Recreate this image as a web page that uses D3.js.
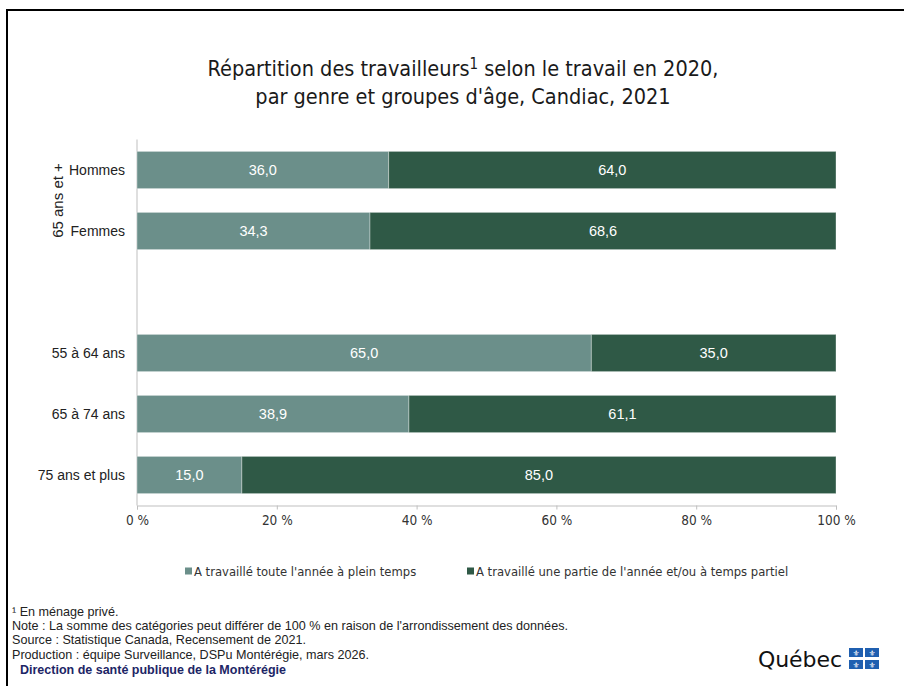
<!DOCTYPE html>
<html><head><meta charset="utf-8">
<script src="https://cdn.jsdelivr.net/npm/d3@7"></script>
<style>
html,body{margin:0;padding:0;background:#fff;}
svg{display:block;}
</style></head>
<body>
<svg id="chart" width="904" height="686"></svg>
<script>
// ---- data ----
const categories = ["Hommes", "Femmes", "", "55 à 64 ans", "65 à 74 ans", "75 ans et plus"];
const pleinTemps = [36.0, 34.3, null, 65.0, 38.9, 15.0];
const partiel    = [64.0, 68.6, null, 35.0, 61.1, 85.0];
const seriesNames = ["A travaillé toute l'année à plein temps", "A travaillé une partie de l'année et/ou à temps partiel"];
const groupLabel = "65 ans et +";
const groupMembers = ["Hommes", "Femmes"];
const xTicks = [0, 0.2, 0.4, 0.6, 0.8, 1.0];
const titleLines = ["Répartition des travailleurs", "par genre et groupes d'âge, Candiac, 2021"];
const footnotes = [
  "\u00B9 En ménage privé.",
  "Note : La somme des catégories peut différer de 100 % en raison de l'arrondissement des données.",
  "Source : Statistique Canada, Recensement de 2021.",
  "Production : équipe Surveillance, DSPu Montérégie, mars 2026."
];
const orgLine = "Direction de santé publique de la Montérégie";

// ---- setup ----
const svg = d3.select("#chart");
const colors = ["#6b8f8a", "#2f5946"];
const narrow = "'Liberation Sans Narrow','DejaVu Sans Condensed','Arial Narrow',sans-serif";
const sans = "'Liberation Sans',Arial,Helvetica,sans-serif";
const fr = d3.formatLocale({decimal: ",", thousands: " ", grouping: [3], currency: ["", " $"]});
const fmt1 = fr.format(".1f");

// frame
svg.append("rect").attr("x", 7).attr("y", 10).attr("width", 1000).attr("height", 1000)
  .attr("fill", "none").attr("stroke", "#000").attr("stroke-width", 2);

// title
const title = svg.append("text").attr("text-anchor", "middle").attr("font-family", narrow)
  .attr("font-size", 21.5).attr("fill", "#1a1a1a");
const t1 = title.append("tspan").attr("x", 463).attr("y", 76);
t1.append("tspan").text(titleLines[0]);
t1.append("tspan").attr("font-size", 15).attr("dy", -7).text("1");
t1.append("tspan").attr("dy", 7).text(" selon le travail en 2020,");
title.append("tspan").attr("x", 463).attr("y", 104).text(titleLines[1]);

// scales
const plot = {left: 137, right: 836, top: 139.5, bottom: 505.5};
const x = d3.scaleLinear().domain([0, 1]).range([plot.left, plot.right]);
const y = d3.scaleBand().domain(categories.map((c, i) => i)).range([plot.top, plot.bottom]).paddingInner(0.39).paddingOuter(0.195);

const rows = categories.map((c, i) => ({i, cat: c, a: pleinTemps[i], b: partiel[i]}));
const dataRows = rows.filter(r => r.a !== null);
const stack = d3.stack().keys(["a", "b"]).offset(d3.stackOffsetExpand);
const stacked = stack(dataRows);

// x axis
const xAxis = d3.axisBottom(x).tickValues(xTicks).tickSize(4).tickPadding(6)
  .tickFormat(d => fr.format("d")(d * 100) + " %");
const gx = svg.append("g").attr("transform", `translate(0,${plot.bottom})`).call(xAxis);
gx.select(".domain").attr("stroke", "#bfbfbf");
gx.selectAll(".tick line").attr("stroke", "#bfbfbf");
gx.selectAll(".tick text").attr("font-family", narrow).attr("font-size", 13.5).attr("fill", "#333");

// y axis line
svg.append("line").attr("x1", plot.left).attr("x2", plot.left).attr("y1", plot.top).attr("y2", plot.bottom)
  .attr("stroke", "#bfbfbf");

// bars
const layers = svg.append("g").selectAll("g").data(stacked).join("g").attr("fill", (d, k) => colors[k]);
layers.selectAll("rect").data(d => d.map(s => ({s, row: s.data}))).join("rect")
  .attr("x", d => x(d.s[0])).attr("width", d => x(d.s[1]) - x(d.s[0]))
  .attr("y", d => y(d.row.i)).attr("height", y.bandwidth())
  .attr("stroke", "#ffffff").attr("stroke-opacity", 0.35).attr("stroke-width", 1);

// data labels
layers.selectAll("text").data((d, k) => d.map(s => ({s, row: s.data, k}))).join("text")
  .attr("x", d => (x(d.s[0]) + x(d.s[1])) / 2).attr("y", d => y(d.row.i) + y.bandwidth() / 2)
  .attr("dy", "0.36em").attr("text-anchor", "middle").attr("fill", "#fff")
  .attr("font-family", sans).attr("font-size", 14.5)
  .text(d => fmt1(d.k === 0 ? d.row.a : d.row.b));

// category labels
svg.append("g").selectAll("text").data(rows.filter(r => r.cat)).join("text")
  .attr("x", 125).attr("y", d => y(d.i) + y.bandwidth() / 2).attr("dy", "0.36em")
  .attr("text-anchor", "end").attr("font-family", sans).attr("font-size", 14).attr("fill", "#222")
  .text(d => d.cat);

// group label (rotated)
const gi = groupMembers.map(m => categories.indexOf(m));
const gyc = (y(gi[0]) + y(gi[gi.length - 1]) + y.bandwidth()) / 2;
svg.append("text").attr("transform", `translate(63,${gyc}) rotate(-90)`)
  .attr("text-anchor", "middle").attr("font-family", sans).attr("font-size", 15).attr("fill", "#222")
  .text(groupLabel);

// legend
const legX = [185, 467];
const leg = svg.append("g").selectAll("g").data(seriesNames).join("g")
  .attr("transform", (d, k) => `translate(${legX[k]},571)`);
leg.append("rect").attr("x", 0).attr("y", -3.5).attr("width", 7).attr("height", 7).attr("fill", (d, k) => colors[k]);
leg.append("text").attr("x", 9).attr("dy", "0.36em").attr("font-family", narrow).attr("font-size", 12.9)
  .attr("fill", "#333").text(d => d);

// footnotes
svg.append("g").selectAll("text").data(footnotes).join("text")
  .attr("x", 12).attr("y", (d, k) => 616 + k * 14.2)
  .attr("font-family", sans).attr("font-size", 12.6).attr("fill", "#222").text(d => d);
svg.append("text").attr("x", 20).attr("y", 674).attr("font-family", sans).attr("font-size", 12.5)
  .attr("font-weight", "bold").attr("fill", "#1c2566").text(orgLine);

// Québec logo
const logo = svg.append("g");
logo.append("text").attr("x", 758).attr("y", 667).attr("font-family", "'DejaVu Sans',sans-serif")
  .attr("font-size", 22).attr("fill", "#111").attr("textLength", 84).text("Québec");
const cells = [[849, 648], [865, 648], [849, 660], [865, 660]];
logo.selectAll("g.f").data(cells).join("g").attr("class", "f").each(function(c) {
  const g = d3.select(this);
  g.append("rect").attr("x", c[0]).attr("y", c[1]).attr("width", 14).attr("height", 9).attr("fill", "#1f5fb0");
  g.append("text").attr("x", c[0] + 7).attr("y", c[1] + 7.5).attr("text-anchor", "middle")
    .attr("font-size", 8).attr("fill", "#fff").attr("font-family", "'DejaVu Sans',sans-serif").text("⚜");
});
</script>
</body></html>
